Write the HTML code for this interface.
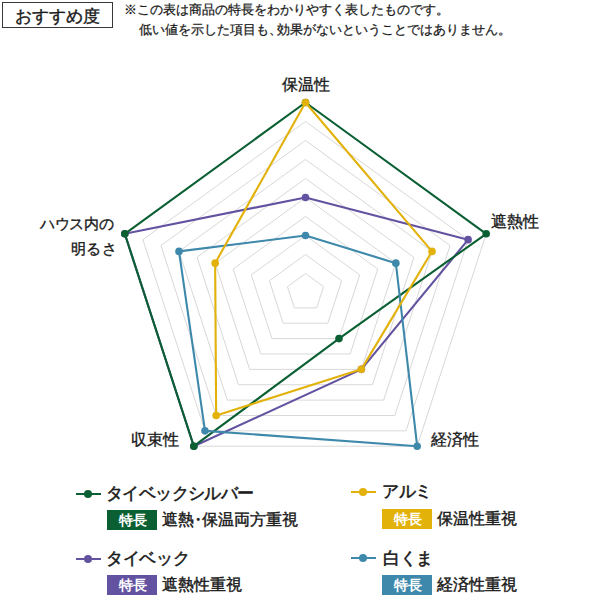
<!DOCTYPE html>
<html><head><meta charset="utf-8">
<style>
html,body{margin:0;padding:0;background:#fff;}
body{width:600px;height:600px;position:relative;overflow:hidden;font-family:"Liberation Sans",sans-serif;color:#1a1a1a;}
.t{position:absolute;white-space:nowrap;line-height:1;}
.box{position:absolute;left:2px;top:2.3px;width:108.5px;height:23.5px;border:1.6px solid #383838;}
.ax{font-size:16px;-webkit-text-stroke:0.35px #1a1a1a;}
.lg{font-size:17px;-webkit-text-stroke:0.55px #1a1a1a;letter-spacing:-0.3px;}
.badge{position:absolute;width:49px;padding-left:1px;height:20px;color:#fff;font-size:14px;font-weight:bold;line-height:20px;text-align:center;}
.desc{font-size:16px;-webkit-text-stroke:0.45px #1a1a1a;}
.nt{font-size:13px;-webkit-text-stroke:0.25px #1a1a1a;}
.dot{margin:0 -4px;}
.cm{margin-right:-5px;}
.key{position:absolute;width:25px;height:2px;}
.key i{position:absolute;left:8px;top:-3px;width:8px;height:8px;border-radius:50%;}
</style></head><body>
<svg width="600" height="600" style="position:absolute;left:0;top:0">
<g fill="none" stroke="#d8d8d8" stroke-width="1"><polygon points="305.50,273.50 323.57,286.63 316.67,307.87 294.33,307.87 287.43,286.63"/><polygon points="305.50,254.50 341.64,280.76 327.84,323.24 283.16,323.24 269.36,280.76"/><polygon points="305.50,235.50 359.71,274.89 339.00,338.61 272.00,338.61 251.29,274.89"/><polygon points="305.50,216.50 377.78,269.01 350.17,353.99 260.83,353.99 233.22,269.01"/><polygon points="305.50,197.50 395.85,263.14 361.34,369.36 249.66,369.36 215.15,263.14"/><polygon points="305.50,178.50 413.92,257.27 372.51,384.73 238.49,384.73 197.08,257.27"/><polygon points="305.50,159.50 431.99,251.40 383.68,400.10 227.32,400.10 179.01,251.40"/><polygon points="305.50,140.50 450.06,245.53 394.84,415.47 216.16,415.47 160.94,245.53"/><polygon points="305.50,121.50 468.13,239.66 406.01,430.84 204.99,430.84 142.87,239.66"/><polygon points="305.50,102.50 486.20,233.79 417.18,446.21 193.82,446.21 124.80,233.79"/></g>
<polygon points="305.50,197.50 468.13,239.66 361.34,369.36 193.82,446.21 124.80,233.79" fill="none" stroke="#6352a0" stroke-width="2.1" stroke-linejoin="round"/><circle cx="305.50" cy="197.50" r="3.8" fill="#6352a0"/><circle cx="468.13" cy="239.66" r="3.8" fill="#6352a0"/><circle cx="361.34" cy="369.36" r="3.8" fill="#6352a0"/><circle cx="193.82" cy="446.21" r="3.8" fill="#6352a0"/><circle cx="124.80" cy="233.79" r="3.8" fill="#6352a0"/><polygon points="305.50,102.50 486.20,233.79 339.00,338.61 193.82,446.21 124.80,233.79" fill="none" stroke="#0a5f33" stroke-width="2.1" stroke-linejoin="round"/><circle cx="305.50" cy="102.50" r="3.8" fill="#0a5f33"/><circle cx="486.20" cy="233.79" r="3.8" fill="#0a5f33"/><circle cx="339.00" cy="338.61" r="3.8" fill="#0a5f33"/><circle cx="193.82" cy="446.21" r="3.8" fill="#0a5f33"/><circle cx="124.80" cy="233.79" r="3.8" fill="#0a5f33"/><polygon points="305.50,235.50 395.85,263.14 417.18,446.21 204.99,430.84 179.01,251.40" fill="none" stroke="#3e89ab" stroke-width="2.1" stroke-linejoin="round"/><circle cx="305.50" cy="235.50" r="3.8" fill="#3e89ab"/><circle cx="395.85" cy="263.14" r="3.8" fill="#3e89ab"/><circle cx="417.18" cy="446.21" r="3.8" fill="#3e89ab"/><circle cx="204.99" cy="430.84" r="3.8" fill="#3e89ab"/><circle cx="179.01" cy="251.40" r="3.8" fill="#3e89ab"/><polygon points="305.50,102.50 431.99,251.40 361.34,369.36 216.16,415.47 215.15,263.14" fill="none" stroke="#e2b10a" stroke-width="2.1" stroke-linejoin="round"/><circle cx="305.50" cy="102.50" r="3.8" fill="#e2b10a"/><circle cx="431.99" cy="251.40" r="3.8" fill="#e2b10a"/><circle cx="361.34" cy="369.36" r="3.8" fill="#e2b10a"/><circle cx="216.16" cy="415.47" r="3.8" fill="#e2b10a"/><circle cx="215.15" cy="263.14" r="3.8" fill="#e2b10a"/>
</svg>
<div class="box"></div>
<div class="t" style="left:15px;top:8px;font-size:17px;letter-spacing:0.1px;-webkit-text-stroke:0.4px #1a1a1a;">おすすめ度</div>
<div class="t nt" style="left:124px;top:3px;">※この表は商品の特長をわかりやすく表したものです。</div>
<div class="t nt" style="left:139px;top:23px;">低い値を示した項目も<span class="cm">、</span>効果がないということではありません。</div>

<div class="t ax" style="left:282px;top:77px;">保温性</div>
<div class="t ax" style="left:491px;top:214px;">遮熱性</div>
<div class="t ax" style="left:431px;top:432px;">経済性</div>
<div class="t ax" style="left:131px;top:432px;">収束性</div>
<div class="t ax" style="left:40px;top:216px;font-size:15px;letter-spacing:-0.3px;">ハウス内の</div>
<div class="t ax" style="left:70.5px;top:241px;font-size:15px;letter-spacing:0.5px;">明るさ</div>

<div class="key" style="left:76px;top:493px;background:#0a5f33"><i style="background:#0a5f33"></i></div>
<div class="t lg" style="left:106px;top:485px;letter-spacing:-0.6px;">タイベックシルバー</div>
<div class="badge" style="left:107px;top:510px;background:#0a5f33">特長</div>
<div class="t desc" style="left:162px;top:512px;">遮熱<span class="dot">・</span>保温両方重視</div>

<div class="key" style="left:351px;top:491px;background:#e2b10a"><i style="background:#e2b10a"></i></div>
<div class="t lg" style="left:382px;top:483px;">アルミ</div>
<div class="badge" style="left:382px;top:509px;background:#e2b10a">特長</div>
<div class="t desc" style="left:437px;top:511px;">保温性重視</div>

<div class="key" style="left:76px;top:558px;background:#6352a0"><i style="background:#6352a0"></i></div>
<div class="t lg" style="left:106px;top:550px;">タイベック</div>
<div class="badge" style="left:107px;top:575px;background:#6352a0">特長</div>
<div class="t desc" style="left:162px;top:577px;">遮熱性重視</div>

<div class="key" style="left:351px;top:557px;background:#3e89ab"><i style="background:#3e89ab"></i></div>
<div class="t lg" style="left:383px;top:550px;">白くま</div>
<div class="badge" style="left:382px;top:575px;background:#3e89ab">特長</div>
<div class="t desc" style="left:437px;top:577px;">経済性重視</div>
</body></html>
